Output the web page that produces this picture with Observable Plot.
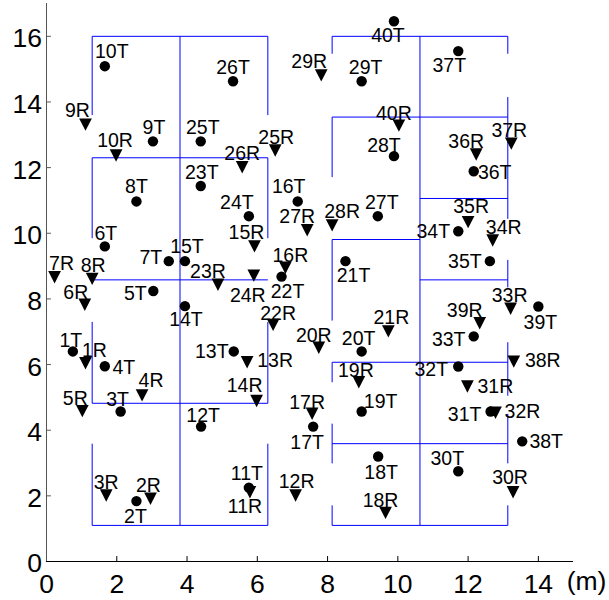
<!DOCTYPE html>
<html><head><meta charset="utf-8">
<script src="https://cdn.jsdelivr.net/npm/d3@7"></script>
<script src="https://cdn.jsdelivr.net/npm/@observablehq/plot@0.6"></script>
<style>html,body{margin:0;padding:0;background:#fff;}</style>
</head><body><div id="chart"></div>
<script>
// Transmitter positions (T, circles)
const tNames = ["1T","2T","3T","4T","5T","6T","7T","8T","9T","10T","11T","12T","13T","14T","15T","16T","17T","18T","19T","20T","21T","22T","23T","24T","25T","26T","27T","28T","29T","30T","31T","32T","33T","34T","35T","36T","37T","38T","39T","40T"];
const tX = [0.75,2.56,2.11,1.66,3.04,1.66,3.48,2.56,3.03,1.66,5.76,4.40,5.33,3.94,3.94,7.15,7.59,9.44,8.97,8.97,8.51,6.69,4.39,5.76,4.39,5.31,9.43,9.89,8.97,11.72,12.64,11.72,12.16,11.72,12.62,12.16,11.72,13.54,14.00,9.89];
const tY = [6.40,1.84,4.57,5.95,8.24,9.60,9.15,10.97,12.80,15.09,2.25,4.11,6.40,7.78,9.15,10.97,4.11,3.20,4.57,6.40,9.15,8.68,11.44,10.52,12.80,14.63,10.52,12.35,14.63,2.75,4.57,5.94,6.86,10.06,9.15,11.89,15.55,3.66,7.77,16.46];
// Receiver positions (R, down triangles)
const rNames = ["1R","2R","3R","4R","5R","6R","7R","8R","9R","10R","11R","12R","13R","14R","15R","16R","17R","18R","19R","20R","21R","22R","23R","24R","25R","26R","27R","28R","29R","30R","31R","32R","33R","34R","35R","36R","37R","38R","39R","40R"];
const rX = [1.11,2.96,1.70,2.72,1.02,1.09,0.23,1.30,1.11,1.98,5.79,7.09,5.71,5.98,5.92,6.80,7.56,9.65,8.89,7.75,9.73,6.45,4.88,5.90,6.51,5.57,7.42,8.13,7.82,13.28,11.98,12.78,13.21,12.70,12.00,12.23,13.23,13.30,12.33,10.03];
const rY = [6.04,1.91,2.01,5.06,4.58,7.82,8.66,8.61,13.31,12.37,2.11,2.01,6.07,4.89,9.60,8.95,4.50,1.48,5.46,6.51,7.01,7.21,8.43,8.71,12.52,12.01,10.09,10.24,14.81,2.11,5.33,4.53,7.70,9.78,10.34,12.40,12.73,6.09,7.26,13.28];
// Room walls [x1, y1, x2, y2] in metres
const walls = [
  [1.3,16,6.3,16],[1.3,16,1.3,13.6],[6.3,16,6.3,13.6],[3.8,16,3.8,1.1],
  [1.3,12.3,6.3,12.3],[1.3,12.3,1.3,9.85],[6.3,12.3,6.3,9.85],
  [1.3,8.58,6.3,8.58],[1.3,7.3,1.3,4.82],[6.3,7.3,6.3,4.82],[1.3,4.82,6.3,4.82],
  [1.3,3.59,1.3,1.1],[6.3,3.59,6.3,1.1],[1.3,1.1,6.3,1.1],
  [8.13,16,13.13,16],[8.13,16,8.13,15.47],[13.13,16,13.13,15.47],[10.63,16,10.63,1.1],
  [8.13,13.54,13.13,13.54],[13.13,14.15,13.13,10.44],[8.13,13.54,8.13,11.71],
  [10.63,11.06,13.13,11.06],[8.13,9.81,10.63,9.81],[8.13,9.81,8.13,7.34],
  [13.13,9.19,13.13,8.35],[10.63,8.58,13.13,8.58],[13.13,6.68,13.13,5.05],
  [8.13,6.07,13.13,6.07],[8.13,6.07,8.13,5.46],[8.13,4.2,8.13,2.99],[13.13,4.5,13.13,2.99],
  [8.13,3.59,13.13,3.59],[8.13,1.71,8.13,1.1],[13.13,1.71,13.13,1.1],[8.13,1.1,13.13,1.1]
];
const xTicks = [0,2,4,6,8,10,12,14];
const yTicks = [0,2,4,6,8,10,12,14,16];
const xUnit = "(m)";
// Label placement (pixel nudges: centre dx, baseline dy) — layout only
const tLabelOffset = [[-2,-4],[-1,22],[-3,-5],[19,8],[-18,9],[1,-6],[-18,3],[0,-8],[1,-7],[7,-8],[-2,-8],[2,-5],[-22,7],[1,20],[2,-8],[-9,-8],[-6,22],[3,23],[19,-3],[-3,-6],[8,21],[6,21],[1,-7],[-12,-7],[2,-7],[0,-7],[4,-7],[-10,-4],[4,-7],[-11,-6],[-26,10],[-27,9],[-25,10],[-25,7],[-25,7],[21,8],[-9,21],[24,7],[2,23],[-6,21]];
const rLabelOffset = [[9,-6],[-2,-7],[0,-7],[9,-8],[-7,-6],[-9,-6],[7,-7],[1,-7],[-8,-8],[-1,-8],[-5,21],[1,-8],[28,5],[-12,-9],[-8,-7],[5,-6],[-5,-5],[-5,-6],[-3,-5],[-5,-6],[3,-7],[5,-5],[-10,-7],[-6,26],[1,-7],[0,-7],[-10,-7],[10,-7],[-12,-7],[-3,-8],[28,6],[27,5],[-1,-7],[11,-6],[3,-9],[-10,-6],[-2,-7],[29,5],[-15,-6],[-5,-6]];

const T = tNames.map((name, i) => ({name, x: tX[i], y: tY[i], dx: tLabelOffset[i][0], dy: tLabelOffset[i][1]}));
const R = rNames.map((name, i) => ({name, x: rX[i], y: rY[i], dx: rLabelOffset[i][0], dy: rLabelOffset[i][1]}));
const W = walls.map(([x1, y1, x2, y2]) => ({x1, y1, x2, y2}));

const downTriangle = {
  draw(context, size) {
    const r = Math.sqrt(size / Math.PI);
    const w = r * 1.2, h = r * 1.17;
    context.moveTo(-w, -h);
    context.lineTo(w, -h);
    context.lineTo(0, h);
    context.closePath();
  }
};

const font = "'Liberation Sans', Arial, Helvetica, sans-serif";
const labelMarks = [...T, ...R].map(d => Plot.text([d], {
  x: "x", y: "y", text: "name", dx: d.dx, dy: d.dy,
  textAnchor: "middle", lineAnchor: "bottom", fontSize: 19.5, fill: "black",
  ariaLabel: "point-label"
}));

const chart = Plot.plot({
  width: 609, height: 600,
  marginLeft: 46, marginRight: 36, marginTop: 3, marginBottom: 39,
  x: {domain: [0, 15], axis: null},
  y: {domain: [0, 17], axis: null},
  style: {fontFamily: font, background: "white", overflow: "visible"},
  marks: [
    Plot.link(W, {x1: "x1", y1: "y1", x2: "x2", y2: "y2", stroke: "#0000ff", strokeWidth: 1}),
    Plot.ruleY([0], {stroke: "black", strokeWidth: 1}),
    Plot.ruleX([0], {stroke: "#555", strokeWidth: 1}),
    Plot.ruleX(xTicks.filter(t => t > 0), {x: d => d, y1: 0, y2: 0.15, stroke: "black"}),
    Plot.ruleY(yTicks.filter(t => t > 0), {y: d => d, x1: 0, x2: 0.14, stroke: "#555"}),
    Plot.text(xTicks, {x: d => d, y: 0, text: d => String(d), dy: 13, lineAnchor: "top", textAnchor: "middle", fontSize: 26.5, fill: "black", ariaLabel: "tick-label"}),
    Plot.text(yTicks, {x: 0, y: d => d, text: d => String(d), dx: -4.5, dy: 2.5, lineAnchor: "middle", textAnchor: "end", fontSize: 26.5, fill: "black", ariaLabel: "tick-label"}),
    Plot.text([xUnit], {x: 15, y: 0, text: d => d, dx: 13, dy: 10, lineAnchor: "top", textAnchor: "middle", fontSize: 26.5, fill: "black"}),
    Plot.dot(T, {x: "x", y: "y", r: 5.2, fill: "black", stroke: "none"}),
    Plot.dot(R, {x: "x", y: "y", r: 5.3, symbol: downTriangle, fill: "black", stroke: "none"}),
    ...labelMarks
  ]
});
document.getElementById("chart").appendChild(chart);

// Slight horizontal stretch of glyphs to match the reference rendering
function stretch(selector, k) {
  chart.querySelectorAll(selector).forEach(t => {
    const tr = t.getAttribute("transform");
    if (tr) t.setAttribute("transform", tr + ` scale(${k},1)`);
  });
}
stretch('g[aria-label="point-label"] text', 1.1);
stretch('g[aria-label="tick-label"] text', 1.15);
</script>
</body></html>
